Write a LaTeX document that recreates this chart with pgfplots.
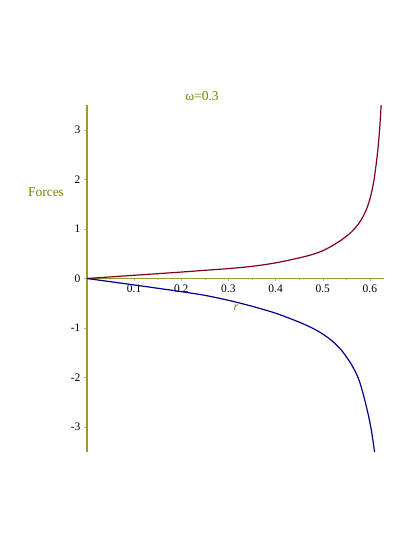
\documentclass[border=0pt]{standalone}
\usepackage{fontspec}
\setmainfont{Liberation Serif}
\usepackage{pgfplots}
\pgfplotsset{compat=1.18}
\definecolor{axolive}{RGB}{160,152,40}
\definecolor{txolive}{RGB}{128,128,0}
\definecolor{redcurve}{RGB}{128,0,32}
\definecolor{bluecurve}{RGB}{0,0,140}
\begin{document}
\begin{tikzpicture}[x=1pt,y=1pt]
\useasboundingbox (0,0) rectangle (415,537);
\begin{axis}[
  at={(87pt,85pt)}, anchor=south west,
  scale only axis, width=297pt, height=347pt,
  axis x line=middle, axis y line=left,
  axis line style={-, color=axolive, line width=1.1pt},
  xmin=0, xmax=0.63, ymin=-3.5, ymax=3.5,
  xtick={0.1,0.2,0.3,0.4,0.5,0.6},
  xticklabels={0.1,0.2,0.3,0.4,0.5,0.6},
  minor xtick={0.05,0.15,0.25,0.35,0.45,0.55},
  ytick={-3,-2,-1,0,1,2,3},
  yticklabels={-3,-2,-1,0,1,2,3},
  tick style={gray!60, line width=0.4pt},
  major tick length=3pt, minor tick length=2pt,
  xtick align=outside, ytick align=outside,
  tick label style={font=\fontsize{11.5}{13}\selectfont, black},
  clip=false,
]
\addplot[redcurve, line width=1.2pt, smooth] coordinates {
  (0,0) (0.05,0.032) (0.1,0.065) (0.15,0.097) (0.2,0.13) (0.25,0.165)
  (0.3,0.2) (0.35,0.245) (0.4,0.315) (0.45,0.415) (0.48,0.49) (0.5,0.56)
  (0.52,0.66) (0.54,0.78) (0.56,0.93) (0.575,1.09) (0.585,1.24)
  (0.595,1.45) (0.603,1.71) (0.609,2.0) (0.614,2.35) (0.618,2.7)
  (0.621,3.05) (0.624,3.5)
};
\addplot[bluecurve, line width=1.2pt, smooth] coordinates {
  (0,0) (0.05,-0.065) (0.1,-0.13) (0.15,-0.197) (0.2,-0.265) (0.25,-0.34)
  (0.3,-0.44) (0.35,-0.56) (0.4,-0.70) (0.45,-0.88) (0.48,-1.01)
  (0.5,-1.12) (0.52,-1.26) (0.54,-1.45) (0.56,-1.72) (0.575,-2.0)
  (0.585,-2.3) (0.595,-2.68) (0.603,-3.05) (0.61,-3.5)
};
\end{axis}
\node[txolive, font=\fontsize{13.5}{15}\selectfont] at (202,441) {ω=0.3};
\node[txolive, font=\fontsize{13.5}{15}\selectfont] at (46,345) {Forces};
\node[txolive, font=\fontsize{12}{14}\selectfont\itshape] at (236,229) {r};
\end{tikzpicture}
\end{document}
